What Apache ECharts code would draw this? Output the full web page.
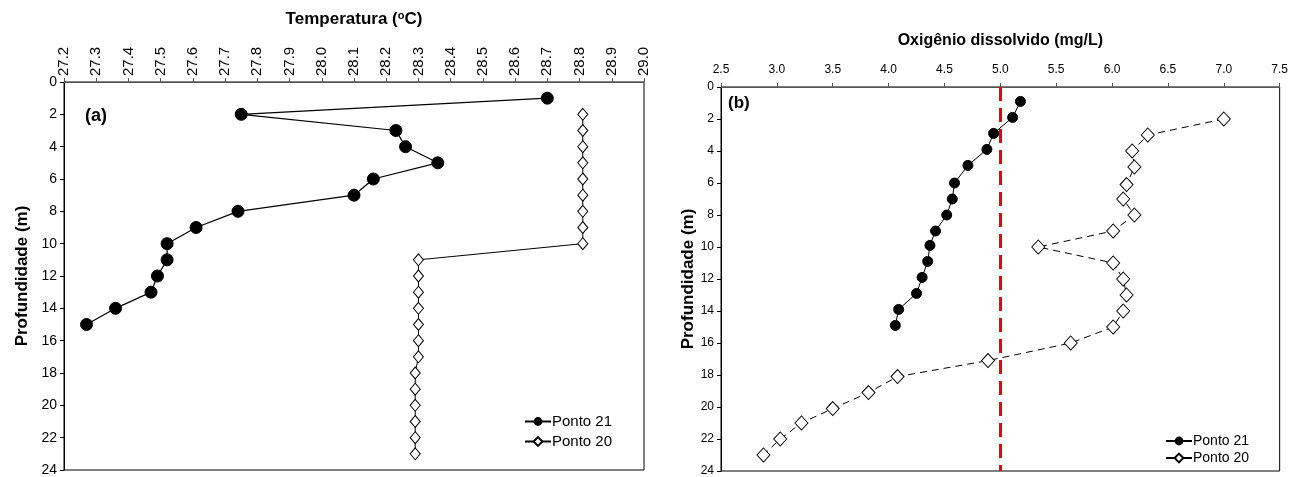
<!DOCTYPE html>
<html>
<head>
<meta charset="utf-8">
<script src="https://cdn.jsdelivr.net/npm/echarts@6/dist/echarts.min.js"></script>
<style>
  html, body { margin: 0; padding: 0; background: #fff; }
  #chart { width: 1291px; height: 477px; }
</style>
</head>
<body>
<div id="chart"></div>
<script>
// Depth profiles (m) — panel (a): temperature, panel (b): dissolved oxygen
const depthTemp21 = [1, 2, 3, 4, 5, 6, 7, 8, 9, 10, 11, 12, 13, 14, 15];
const temp21 = [28.70, 27.75, 28.23, 28.26, 28.36, 28.16, 28.10, 27.74, 27.61, 27.52, 27.52, 27.49, 27.47, 27.36, 27.27];

const depthTemp20 = [2, 3, 4, 5, 6, 7, 8, 9, 10, 11, 12, 13, 14, 15, 16, 17, 18, 19, 20, 21, 22, 23];
const temp20 = [28.81, 28.81, 28.81, 28.81, 28.81, 28.81, 28.81, 28.81, 28.81,
                28.30, 28.30, 28.30, 28.30, 28.30, 28.30, 28.30,
                28.29, 28.29, 28.29, 28.29, 28.29, 28.29];

const depthOxy21 = [0.9, 1.9, 2.9, 3.9, 4.9, 6, 7, 8, 9, 9.9, 10.9, 11.9, 12.9, 13.9, 14.9];
const oxy21 = [5.18, 5.11, 4.94, 4.88, 4.71, 4.59, 4.57, 4.52, 4.42, 4.37, 4.35, 4.30, 4.25, 4.09, 4.06];

const depthOxy20 = [2, 3, 4, 5, 6.1, 7, 8, 9, 10, 11, 12, 13, 14, 15, 16, 17.1, 18.1, 19.1, 20.1, 21, 22, 23];
const oxy20 = [7.00, 6.32, 6.18, 6.20, 6.13, 6.10, 6.20, 6.01, 5.34, 6.01, 6.10, 6.13, 6.10, 6.01, 5.63, 4.89, 4.08, 3.82, 3.50, 3.22, 3.03, 2.88];

// Reference oxygen level drawn as a vertical dashed line
const oxyLimit = 5.0;

const seriesNames = ['Ponto 21', 'Ponto 20'];
const panelLabels = ['(a)', '(b)'];

const FONT = '"Liberation Sans", Arial, sans-serif';
const pairs = (xs, ys) => xs.map((x, i) => [x, ys[i]]);

const chart = echarts.init(document.getElementById('chart'), null, { renderer: 'canvas' });

const depthAxis = (gridIndex, nameGap, labelSize) => ({
  gridIndex,
  type: 'value',
  inverse: true,
  min: 0, max: 24, interval: 2,
  name: 'Profundidade (m)',
  nameLocation: 'middle',
  nameRotate: 90,
  nameGap,
  nameTextStyle: { fontFamily: FONT, fontSize: 17, fontWeight: 'bold', color: '#000' },
  axisLine: { show: true, lineStyle: { color: '#000', width: 1 } },
  axisTick: { show: true, length: 4, lineStyle: { color: '#000' } },
  axisLabel: { fontFamily: FONT, fontSize: labelSize, color: '#000', margin: 7 },
  splitLine: { show: false }
});

const option = {
  animation: false,
  backgroundColor: '#fff',
  grid: [
    { left: 64, top: 82, width: 580, height: 394, show: true, borderColor: '#000', borderWidth: 1, backgroundColor: 'transparent' },
    { left: 721, top: 87, width: 560, height: 390, show: true, borderColor: '#000', borderWidth: 1, backgroundColor: 'transparent' }
  ],
  legend: [
    {
      data: seriesNames.map(n => ({ name: n })),
      left: 519, top: 409, orient: 'vertical',
      itemWidth: 26, itemHeight: 11, itemGap: 5,
      textStyle: { fontFamily: FONT, fontSize: 15, color: '#000', padding: [0, 0, 0, -4] },
      selectedMode: false
    },
    {
      data: seriesNames.map(n => ({ name: n })),
      left: 1160, top: 429, orient: 'vertical',
      itemWidth: 26, itemHeight: 11, itemGap: 3,
      textStyle: { fontFamily: FONT, fontSize: 14, color: '#000', padding: [0, 0, 0, -4] },
      selectedMode: false
    }
  ],
  xAxis: [
    {
      gridIndex: 0,
      type: 'value',
      position: 'top',
      min: 27.2, max: 29.0, interval: 0.1,
      name: '{t|Temperatura (}{s|o}{t|C)}',
      nameLocation: 'middle',
      nameGap: 53,
      nameTextStyle: {
        rich: {
          t: { fontFamily: FONT, fontSize: 17, fontWeight: 'bold', color: '#000' },
          s: { fontFamily: FONT, fontSize: 11, fontWeight: 'bold', color: '#000', verticalAlign: 'top', padding: [0, 0, 8, 0] }
        }
      },
      axisLine: { show: true, lineStyle: { color: '#555', width: 1 } },
      axisTick: { show: true, length: 4, lineStyle: { color: '#555' } },
      axisLabel: {
        rotate: 90, fontFamily: FONT, fontSize: 15, color: '#000', margin: 6,
        formatter: v => v.toFixed(1)
      },
      splitLine: { show: false }
    },
    {
      gridIndex: 1,
      type: 'value',
      position: 'top',
      min: 2.5, max: 7.5, interval: 0.5,
      name: 'Oxigênio dissolvido (mg/L)',
      nameLocation: 'middle',
      nameGap: 38,
      nameTextStyle: { fontFamily: FONT, fontSize: 16, fontWeight: 'bold', color: '#000' },
      axisLine: { show: true, lineStyle: { color: '#555', width: 1 } },
      axisTick: { show: true, length: 4, lineStyle: { color: '#555' } },
      axisLabel: { fontFamily: FONT, fontSize: 12, color: '#000', margin: 11, formatter: v => v.toFixed(1) },
      splitLine: { show: false }
    }
  ],
  yAxis: [depthAxis(0, 33, 14), depthAxis(1, 18, 12)],
  graphic: [
    { type: 'text', left: 85, top: 107, style: { text: panelLabels[0], font: 'bold 18px ' + FONT, fill: '#000' } },
    { type: 'text', left: 728, top: 95, style: { text: panelLabels[1], font: 'bold 17px ' + FONT, fill: '#000' } }
  ],
  series: [
    {
      name: seriesNames[0], type: 'line', xAxisIndex: 0, yAxisIndex: 0,
      data: pairs(temp21, depthTemp21),
      symbol: 'circle', symbolSize: 12,
      itemStyle: { color: '#000', borderColor: '#000' },
      lineStyle: { color: '#000', width: 1.2 },
      z: 3
    },
    {
      name: seriesNames[1], type: 'line', xAxisIndex: 0, yAxisIndex: 0,
      data: pairs(temp20, depthTemp20),
      symbol: 'diamond', symbolSize: [10, 12], showAllSymbol: true,
      itemStyle: { color: '#fff', borderColor: '#000', borderWidth: 1 },
      lineStyle: { color: '#000', width: 1 },
      z: 2
    },
    {
      name: seriesNames[0], type: 'line', xAxisIndex: 1, yAxisIndex: 1,
      data: pairs(oxy21, depthOxy21),
      symbol: 'circle', symbolSize: 10,
      itemStyle: { color: '#000', borderColor: '#000' },
      lineStyle: { color: '#000', width: 1 },
      z: 3,
      markLine: {
        silent: true,
        symbol: 'none',
        label: { show: false },
        lineStyle: { color: '#ee0000', width: 3, type: [14, 7] },
        data: [{ xAxis: oxyLimit }],
        z: 1
      }
    },
    {
      name: seriesNames[1], type: 'line', xAxisIndex: 1, yAxisIndex: 1,
      data: pairs(oxy20, depthOxy20),
      symbol: 'diamond', symbolSize: [13, 14], showAllSymbol: true,
      itemStyle: { color: '#fff', borderColor: '#000', borderWidth: 1 },
      lineStyle: { color: '#000', width: 1, type: [7, 5] },
      z: 2
    }
  ]
};

chart.setOption(option);
</script>
</body>
</html>
